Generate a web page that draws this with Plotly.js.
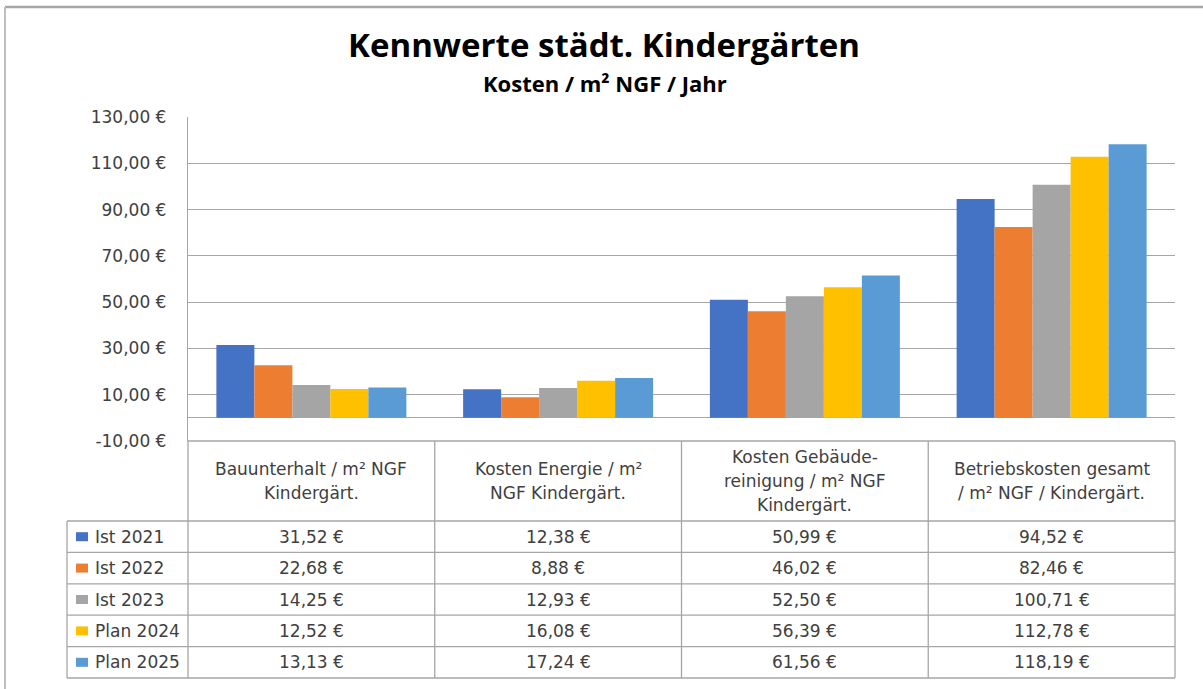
<!DOCTYPE html>
<html>
<head>
<meta charset="utf-8">
<script src="https://cdn.plot.ly/plotly-3.0.1.min.js"></script>
<style>
  body { margin: 0; background: #fff; }
  #chart { width: 1203px; height: 689px; }
</style>
</head>
<body>
<div id="chart"></div>
<script>
// categories (line breaks as in the data table header)
const categories = [
  "Bauunterhalt / m² NGF\nKindergärt.",
  "Kosten Energie / m²\nNGF Kindergärt.",
  "Kosten Gebäude-\nreinigung / m² NGF\nKindergärt.",
  "Betriebskosten gesamt\n/ m² NGF / Kindergärt."
];
const seriesNames = ["Ist 2021", "Ist 2022", "Ist 2023", "Plan 2024", "Plan 2025"];
const ist2021 = [31.52, 12.38, 50.99, 94.52];
const ist2022 = [22.68, 8.88, 46.02, 82.46];
const ist2023 = [14.25, 12.93, 52.50, 100.71];
const plan2024 = [12.52, 16.08, 56.39, 112.78];
const plan2025 = [13.13, 17.24, 61.56, 118.19];
const seriesValues = [ist2021, ist2022, ist2023, plan2024, plan2025];
const colors = ["#4472C4", "#ED7D31", "#A5A5A5", "#FFC000", "#5B9BD5"];
const yTicks = [-10, 10, 30, 50, 70, 90, 110, 130];

const W = 1203, H = 689;
const margin = {l: 188, r: 28, t: 117, b: 248};
const plotW = W - margin.l - margin.r;
const plotH = H - margin.t - margin.b;
// pixel -> paper helpers for the data table drawn under the plot
const px = p => (p - margin.l) / plotW;
const py = p => (H - margin.b - p) / plotH;

const euro = v => v.toFixed(2).replace(".", ",") + " €";
const gridCol = "#a6a6a6";
const textCol = "#404040";
const font = "'DejaVu Sans', Verdana, sans-serif";
const titleFont = "'Open Sans', 'Noto Sans', sans-serif";
const fs = 17;

const data = seriesValues.map((vals, i) => ({
  x: categories,
  y: vals,
  type: "bar",
  name: seriesNames[i],
  marker: {color: colors[i]},
  hoverinfo: "y+name"
}));

// table geometry (pixels)
const tableTop = 441, headTop = 521, tableBottom = 678, legendLeft = 67;
const rowH = (tableBottom - headTop) / seriesNames.length;

const shapes = [];
const annotations = [];
const line = (x0, y0, x1, y1, c, w) => shapes.push({
  type: "line", xref: "paper", yref: "paper",
  x0: x0, y0: y0, x1: x1, y1: y1,
  line: {color: c || gridCol, width: w || 1.3}
});
const label = (x, y, text, opts) => annotations.push(Object.assign({
  xref: "paper", yref: "paper", x: x, y: y, text: text,
  xanchor: "center", yanchor: "middle", showarrow: false,
  font: {family: font, size: fs, color: textCol}
}, opts || {}));

// outer chart frame
line(px(5), py(7), px(1210), py(7), "#a6a6a6", 2.5);
line(px(5), py(7), px(5), py(700), "#bfbfbf", 2);

// horizontal table lines
line(0, py(tableTop), 1, py(tableTop));
for (let r = 0; r <= seriesNames.length; r++) {
  const y = py(headTop + r * rowH);
  line(px(legendLeft), y, 1, y);
}
// vertical table lines
line(px(legendLeft), py(headTop), px(legendLeft), py(tableBottom));
for (let c = 0; c <= categories.length; c++) {
  const x = c / categories.length;
  line(x, py(tableTop), x, py(tableBottom));
}

// header texts
categories.forEach((cat, c) => {
  const parts = cat.split("\n");
  const mid = (tableTop + headTop) / 2;
  parts.forEach((t, k) => {
    label((c + 0.5) / categories.length, py(mid + (k - (parts.length - 1) / 2) * 24), t);
  });
});

// legend column + values
seriesNames.forEach((name, r) => {
  const yc = headTop + (r + 0.5) * rowH;
  shapes.push({
    type: "rect", xref: "paper", yref: "paper",
    x0: px(76), x1: px(88), y0: py(yc + 4.5), y1: py(yc - 4.5),
    fillcolor: colors[r], line: {width: 0}
  });
  label(px(93), py(yc), name, {xanchor: "left"});
  seriesValues[r].forEach((v, c) => {
    label((c + 0.5) / categories.length, py(yc), euro(v));
  });
});

// subtitle
label(px(605), py(83), "<b>Kosten / m² NGF / Jahr</b>",
  {font: {family: titleFont, size: 22, color: "#000"}});

const layout = {
  width: W,
  height: H,
  margin: margin,
  paper_bgcolor: "#fff",
  plot_bgcolor: "#fff",
  showlegend: false,
  barmode: "group",
  bargap: 0.23,
  bargroupgap: 0,
  font: {family: font, color: textCol},
  title: {
    text: "<b>Kennwerte städt. Kindergärten</b>",
    font: {family: titleFont, size: 33, color: "#000"},
    x: 604 / W, xref: "container", xanchor: "center",
    y: 1 - 45 / H, yanchor: "middle"
  },
  xaxis: {
    type: "category",
    showticklabels: false,
    showgrid: false,
    showline: false,
    zeroline: false
  },
  yaxis: {
    range: [-10, 130],
    tickmode: "array",
    tickvals: yTicks,
    ticktext: yTicks.map(euro),
    ticklabelstandoff: 17,
    tickfont: {family: font, size: fs, color: textCol},
    showgrid: true,
    gridcolor: gridCol,
    gridwidth: 1.3,
    zeroline: true,
    zerolinecolor: gridCol,
    zerolinewidth: 1.3,
    showline: true,
    linecolor: gridCol,
    linewidth: 1.3
  },
  shapes: shapes,
  annotations: annotations
};

Plotly.newPlot("chart", data, layout, {displayModeBar: false, responsive: false});
</script>
</body>
</html>
